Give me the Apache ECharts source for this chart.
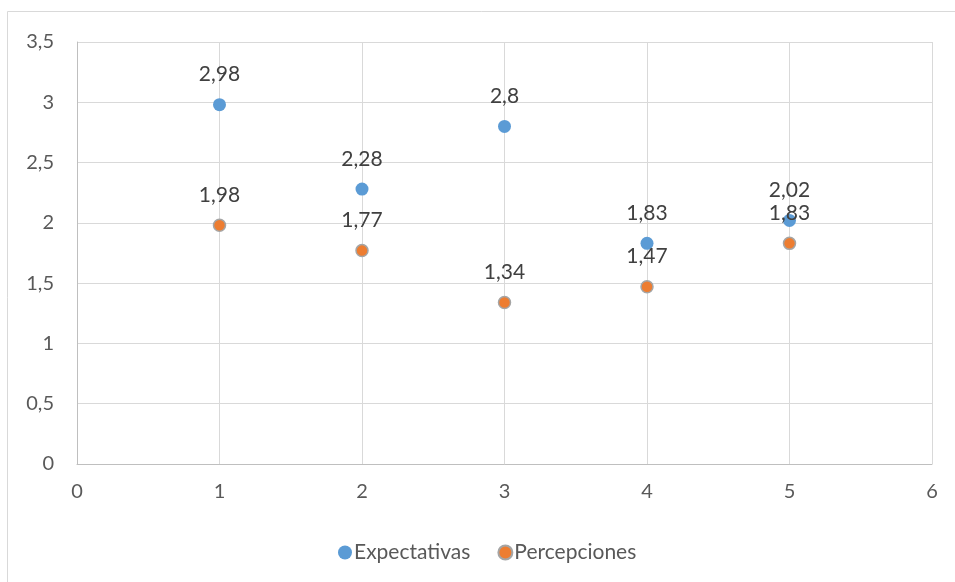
<!DOCTYPE html>
<html>
<head>
<meta charset="utf-8">
<script src="https://cdn.jsdelivr.net/npm/echarts@6/dist/echarts.min.js"></script>
<style>
html,body{margin:0;padding:0;background:#fff;}
#chart{width:955px;height:582px;}
</style>
</head>
<body>
<div id="chart"></div>
<script>
const xValues = [1, 2, 3, 4, 5];
const expectativas = [2.98, 2.28, 2.8, 1.83, 2.02];
const percepciones = [1.98, 1.77, 1.34, 1.47, 1.83];
const seriesNames = ['Expectativas', 'Percepciones'];

const fmt = v => String(v).replace('.', ',');
const FONT = 'Lato, "Open Sans", sans-serif';

const chart = echarts.init(document.getElementById('chart'), null, {renderer: 'canvas'});
chart.setOption({
  animation: false,
  backgroundColor: '#ffffff',
  textStyle: {fontFamily: FONT},
  graphic: [{
    type: 'rect',
    shape: {x: 7.5, y: 11.5, width: 1200, height: 1200},
    style: {fill: 'none', stroke: '#d9d9d9', lineWidth: 1},
    silent: true, z: -1
  }],
  grid: {left: 77, right: 23, top: 42, bottom: 118, containLabel: false},
  xAxis: {
    type: 'value', min: 0, max: 6, interval: 1,
    axisLine: {show: true, lineStyle: {color: '#bfbfbf', width: 1}},
    axisTick: {show: false},
    splitLine: {show: true, lineStyle: {color: '#d9d9d9', width: 1}},
    axisLabel: {color: '#595959', fontSize: 20, fontFamily: FONT, margin: 18, formatter: fmt}
  },
  yAxis: {
    type: 'value', min: 0, max: 3.5, interval: 0.5,
    axisLine: {show: true, lineStyle: {color: '#bfbfbf', width: 1}},
    axisTick: {show: false},
    splitLine: {show: true, lineStyle: {color: '#d9d9d9', width: 1}},
    axisLabel: {color: '#595959', fontSize: 20, fontFamily: FONT, margin: 23, formatter: fmt}
  },
  legend: {
    data: seriesNames,
    left: 333, top: 537,
    icon: 'circle', itemWidth: 14, itemHeight: 14, itemGap: 27,
    textStyle: {color: '#595959', fontSize: 21, fontFamily: FONT, padding: [0, 0, 0, -3]}
  },
  series: [
    {
      name: seriesNames[0], type: 'scatter',
      data: xValues.map((x, i) => [x, expectativas[i]]),
      symbol: 'circle', symbolSize: 13,
      itemStyle: {color: '#5b9bd5', opacity: 1},
      label: {show: true, position: 'top', distance: 13, color: '#404040', fontSize: 21, fontFamily: FONT,
        formatter: p => fmt(p.value[1])}
    },
    {
      name: seriesNames[1], type: 'scatter',
      data: xValues.map((x, i) => [x, percepciones[i]]),
      symbol: 'circle', symbolSize: 12,
      itemStyle: {color: '#ed7d31', borderColor: '#a5a5a5', borderWidth: 1.5, opacity: 1},
      label: {show: true, position: 'top', distance: 13, color: '#404040', fontSize: 21, fontFamily: FONT,
        formatter: p => fmt(p.value[1])}
    }
  ]
});
</script>
</body>
</html>
